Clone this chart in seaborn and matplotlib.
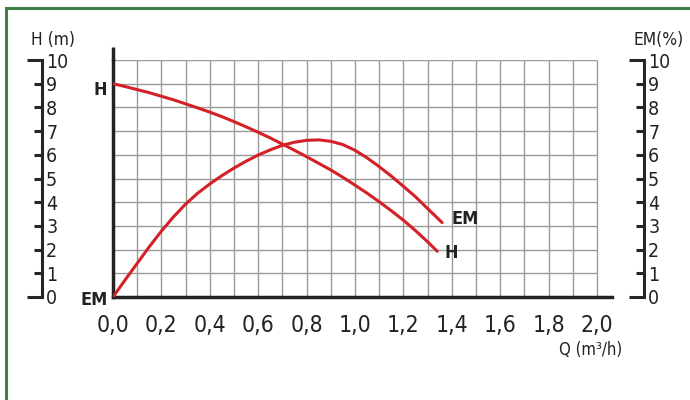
import numpy as np
import pandas as pd
import matplotlib
matplotlib.use("Agg")
import matplotlib.pyplot as plt
import seaborn as sns
from matplotlib.patches import Rectangle

sns.set_style("white")
plt.rcParams["font.family"] = ["DejaVu Sans"]
plt.rcParams["font.stretch"] = "condensed"

# pump curves
q_h = [0.0, 0.05, 0.1, 0.15, 0.2, 0.25, 0.3, 0.35, 0.4, 0.45, 0.5, 0.55, 0.6, 0.65,
       0.7, 0.75, 0.8, 0.85, 0.9, 0.95, 1.0, 1.05, 1.1, 1.15, 1.2, 1.25, 1.3, 1.34]
head = [9.0, 8.88, 8.75, 8.62, 8.47, 8.32, 8.15, 7.98, 7.8, 7.61, 7.4, 7.18, 6.95, 6.71,
        6.45, 6.19, 5.92, 5.64, 5.36, 5.05, 4.72, 4.38, 4.02, 3.64, 3.24, 2.8, 2.33, 1.93]

q_em = [0.0, 0.05, 0.1, 0.15, 0.2, 0.25, 0.3, 0.35, 0.4, 0.45, 0.5, 0.55, 0.6, 0.65,
        0.7, 0.75, 0.8, 0.85, 0.9, 0.95, 1.0, 1.05, 1.1, 1.15, 1.2, 1.25, 1.3, 1.36]
eff = [0.0, 0.72, 1.42, 2.12, 2.78, 3.38, 3.92, 4.38, 4.77, 5.12, 5.44, 5.73, 5.99, 6.21,
       6.4, 6.53, 6.61, 6.63, 6.57, 6.43, 6.19, 5.87, 5.5, 5.1, 4.67, 4.23, 3.73, 3.14]

x_ticks = [0.0, 0.2, 0.4, 0.6, 0.8, 1.0, 1.2, 1.4, 1.6, 1.8, 2.0]
x_labels = [f"{v:.1f}".replace(".", ",") for v in x_ticks]
y_ticks = list(range(0, 11))

df_h = pd.DataFrame({"Q": q_h, "val": head})
df_em = pd.DataFrame({"Q": q_em, "val": eff})

red = "#d42027"
ink = "#222222"
W, H = 690, 400
fig = plt.figure(figsize=(6.9, 4.0), dpi=100)

# green frame
fig.patches.append(Rectangle((6 / W, -0.1), 2.0, 1.1 - 7.5 / H, transform=fig.transFigure,
                             fill=False, edgecolor="#3f7f45", linewidth=2.2))

ax = fig.add_axes([113 / W, 1 - 297 / H, 498.5 / W, 237 / H])
ax.set_xlim(0, 2.06)
ax.set_ylim(0, 10)

# grid
ax.hlines(y_ticks[1:], 0, 2.0, color="#9a9a9a", linewidth=1.0, zorder=1)
ax.vlines(np.arange(1, 21) / 10, 0, 10, color="#9a9a9a", linewidth=1.0, zorder=1)

sns.lineplot(data=df_h, x="Q", y="val", ax=ax, color=red, linewidth=2.2, zorder=3)
sns.lineplot(data=df_em, x="Q", y="val", ax=ax, color=red, linewidth=2.2, zorder=3)

for s in ["top", "right"]:
    ax.spines[s].set_visible(False)
for s in ["left", "bottom"]:
    ax.spines[s].set_linewidth(2.5)
    ax.spines[s].set_color(ink)
ax.plot([0, 0], [10, 10.55], color=ink, linewidth=2.5, clip_on=False, zorder=4,
        solid_capstyle="butt")

ax.set_xticks(x_ticks)
ax.set_xticklabels(x_labels, fontsize=16.5, color=ink)
ax.set_yticks([])
ax.tick_params(axis="x", length=0, pad=12)
ax.set_xlabel("")
ax.set_ylabel("")

ax.text(-0.025, 8.72, "H", fontsize=13, fontweight="bold", ha="right", va="center", color=ink)
ax.text(-0.02, -0.13, "EM", fontsize=13, fontweight="bold", ha="right", va="center", color=ink)
ax.text(1.40, 3.29, "EM", fontsize=13, fontweight="bold", ha="left", va="center", color=ink)
ax.text(1.368, 1.86, "H", fontsize=13, fontweight="bold", ha="left", va="center", color=ink)

fig.text(622 / W, 1 - 350 / H, "Q (m³/h)", fontsize=12, ha="right", va="center", color=ink)


def side_axis(x_px, label, lx_px):
    a = fig.add_axes([(x_px - 20) / W, 1 - 297 / H, 20 / W, 237 / H])
    a.set_xlim(0, 1)
    a.set_ylim(0, 10)
    a.patch.set_visible(False)
    for s in ["top", "left", "bottom"]:
        a.spines[s].set_visible(False)
    a.spines["right"].set_linewidth(2.2)
    a.xaxis.set_visible(False)
    a.yaxis.tick_right()
    a.set_yticks([0, 10])
    a.set_yticklabels(["0", "10"], fontsize=14, color=ink)
    a.set_yticks(y_ticks[1:-1], minor=True)
    a.set_yticklabels([str(v) for v in y_ticks[1:-1]], minor=True, fontsize=14, color=ink)
    a.tick_params(axis="y", which="major", direction="in", length=11, width=2.2, pad=3)
    a.tick_params(axis="y", which="minor", direction="in", length=5.5, width=2.2, pad=3)
    fig.text(lx_px / W, 1 - 40 / H, label, fontsize=12.5, ha="center", va="center", color=ink)
    return a


side_axis(42, "H (m)", 53)
side_axis(644, "EM(%)", 659)

fig.savefig("out.png", dpi=100)
